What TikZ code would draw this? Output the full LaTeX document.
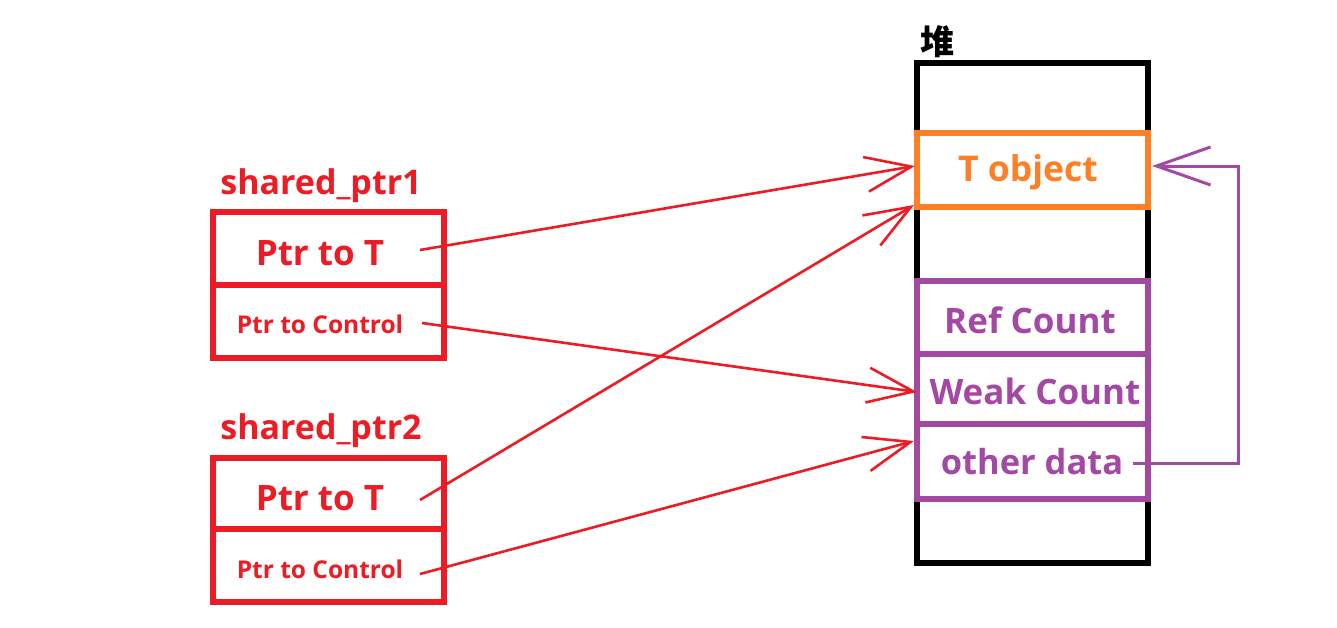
\documentclass[tikz,border=0pt]{standalone}
\usepackage{fontspec}
\setmainfont{Open Sans}
\newfontfamily\cjk{Noto Sans CJK SC}
\usetikzlibrary{arrows.meta,calc}
\definecolor{pred}{HTML}{ED1C24}
\definecolor{porange}{HTML}{FF7F27}
\definecolor{ppurple}{HTML}{A349A4}
\tikzset{
  cell/.style={draw, line width=6pt, minimum width=231pt, inner sep=0pt, anchor=center},
  lbl/.style={font=\bfseries, inner sep=0pt, anchor=center},
  redarrow/.style={draw=pred, line width=2.6pt, -{Straight Barb[length=46pt,width=35pt]}},
  purparrow/.style={draw=ppurple, line width=3pt, -{Straight Barb[length=54pt,width=38pt]}},
}
\begin{document}
\begin{tikzpicture}[x=1pt,y=-1pt]
\useasboundingbox[fill=white] (0,0) rectangle (1337,627);
% heap
\node[cell, draw=black, minimum height=500pt] (heap) at (1032.5,313) {};
\node[lbl, font=\cjk\bfseries\fontsize{34}{34}\selectfont] (heaplbl) at (937,42) {堆};
\node[cell, draw=porange, minimum height=74pt] (tobj) at (1032.5,170) {};
\node[lbl, text=porange, font=\bfseries\fontsize{35.5}{35.5}\selectfont] (tobjt) at (1028,172) {T object};
\node[cell, draw=ppurple, minimum height=73pt] (ref) at (1032.5,317.5) {};
\node[cell, draw=ppurple, minimum height=70pt] (weak) at (1032.5,389) {};
\node[cell, draw=ppurple, minimum height=75pt] (other) at (1032.5,461.5) {};
\node[lbl, text=ppurple, font=\bfseries\fontsize{35}{35}\selectfont] (reft) at (1030,320) {Ref Count};
\node[lbl, text=ppurple, font=\bfseries\fontsize{35}{35}\selectfont] (weakt) at (1035,391) {Weak Count};
\node[lbl, text=ppurple, font=\bfseries\fontsize{34.5}{34.5}\selectfont] (othert) at (1032,462) {other data};
% shared_ptr1
\node[lbl, text=pred, font=\bfseries\fontsize{34}{34}\selectfont] (sp1) at (321,186) {shared\_ptr1};
\node[cell, draw=pred, minimum height=73pt] (p1t) at (328.5,248.5) {};
\node[cell, draw=pred, minimum height=73pt] (p1c) at (328.5,321.5) {};
\node[lbl, text=pred, font=\bfseries\fontsize{35}{35}\selectfont] (p1tt) at (320,253) {Ptr to T};
\node[lbl, text=pred, font=\bfseries\fontsize{24.5}{24.5}\selectfont] (p1ct) at (320,324) {Ptr to Control};
% shared_ptr2
\node[lbl, text=pred, font=\bfseries\fontsize{34}{34}\selectfont] (sp2) at (321,431) {shared\_ptr2};
\node[cell, draw=pred, minimum height=71pt] (p2t) at (328.5,493.5) {};
\node[cell, draw=pred, minimum height=73pt] (p2c) at (328.5,565.5) {};
\node[lbl, text=pred, font=\bfseries\fontsize{35}{35}\selectfont] (p2tt) at (320,498) {Ptr to T};
\node[lbl, text=pred, font=\bfseries\fontsize{24.5}{24.5}\selectfont] (p2ct) at (320,569) {Ptr to Control};
% arrow endpoints
\coordinate (s1) at (420,250);
\coordinate (s2) at (422,323);
\coordinate (s3) at (420,500);
\coordinate (s4) at (420,574);
\coordinate (e1) at (915,166);
\coordinate (e2) at (917,392);
\coordinate (e3) at (914,205);
\coordinate (e4) at (914,441);
\draw[redarrow] (s1) -- (e1);
\draw[redarrow] (s2) -- (e2);
\draw[redarrow] (s3) -- (e3);
\draw[redarrow] (s4) -- (e4);
% purple loop
\coordinate (ps) at (1133,463);
\coordinate (pe) at (1152,166);
\draw[purparrow] (ps) -- (1238,463) -- (1238,166) -- (pe);
\end{tikzpicture}
\end{document}
